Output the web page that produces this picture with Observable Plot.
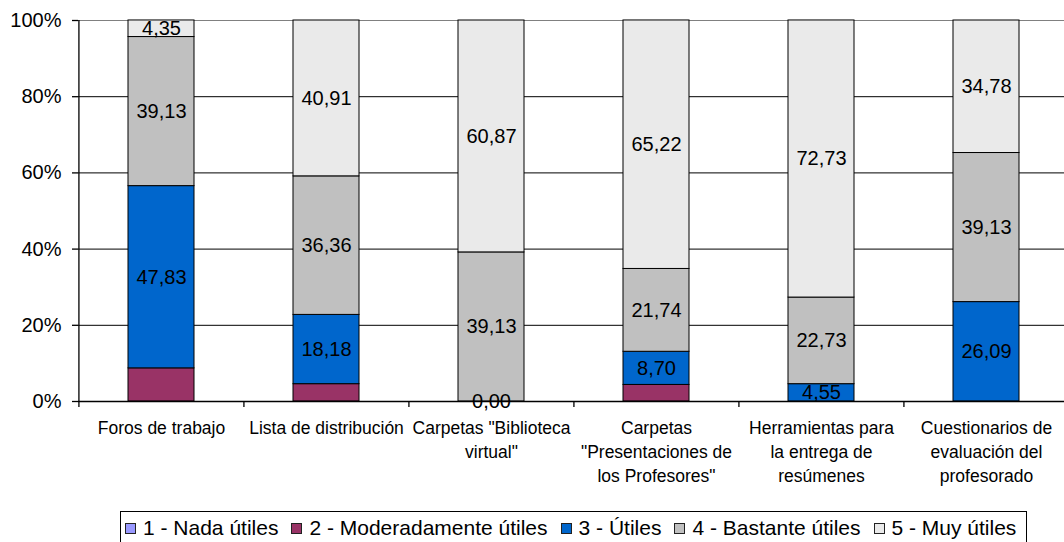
<!DOCTYPE html>
<html><head><meta charset="utf-8">
<script src="https://cdn.jsdelivr.net/npm/d3@7"></script>
<script src="https://cdn.jsdelivr.net/npm/@observablehq/plot@0.6"></script>
<style>
body{margin:0;background:#fff;font-family:"Liberation Sans",Arial,sans-serif;}
#chart{position:relative;width:1064px;height:542px;overflow:hidden;}
#chart svg{display:block;overflow:visible;}
#legend{position:absolute;left:120px;top:511px;height:34px;border:1px solid #000;display:inline-flex;align-items:center;padding:0 10px 0 4px;font-size:21px;color:#000;white-space:nowrap;box-sizing:border-box;}
.item{display:inline-flex;align-items:center;margin-right:13px;}
.item:last-child{margin-right:0;}
.sw{width:11px;height:11px;border:1px solid #222;box-sizing:border-box;margin-right:7px;}
</style></head><body><div id="chart"></div><script>
const categories = ["Foros de trabajo", "Lista de distribución", "Carpetas \"Biblioteca virtual\"", "Carpetas \"Presentaciones de los Profesores\"", "Herramientas para la entrega de resúmenes", "Cuestionarios de evaluación del profesorado"];
const categoryLabels = ["Foros de trabajo", "Lista de distribución", "Carpetas \"Biblioteca\nvirtual\"", "Carpetas\n\"Presentaciones de\nlos Profesores\"", "Herramientas para\nla entrega de\nresúmenes", "Cuestionarios de\nevaluación del\nprofesorado"];
const series = ["1 - Nada útiles", "2 - Moderadamente útiles", "3 - Útiles", "4 - Bastante útiles", "5 - Muy útiles"];
const colors = ["#9999FF", "#993366", "#0066CC", "#C0C0C0", "#EAEAEA"];
const nadaUtiles = [0, 0, 0, 0, 0, 0];
const moderadamenteUtiles = [8.70, 4.55, 0, 4.35, 0, 0];
const utiles = [47.83, 18.18, 0.00, 8.70, 4.55, 26.09];
const bastanteUtiles = [39.13, 36.36, 39.13, 21.74, 22.73, 39.13];
const muyUtiles = [4.35, 40.91, 60.87, 65.22, 72.73, 34.78];
const labelledSeries = ["3 - Útiles", "4 - Bastante útiles", "5 - Muy útiles"];
const yTicks = [0, 20, 40, 60, 80, 100];
const gridTicks = [20, 40, 60, 80];

const seriesValues = [nadaUtiles, moderadamenteUtiles, utiles, bastanteUtiles, muyUtiles];
const data = [];
series.forEach((s, si) => categories.forEach((c, ci) => data.push({category: c, series: s, value: seriesValues[si][ci]})));

const W = 1064, H = 508, left = 78, right = 1069;
const step = (right - left) / categories.length;
const fmt = v => v.toFixed(2).replace(".", ",");
const labelOf = new Map(categories.map((c, i) => [c, categoryLabels[i]]));

const plot = Plot.plot({
  width: W, height: H,
  marginLeft: left, marginRight: 0, marginTop: 20, marginBottom: H - 401,
  style: {fontFamily: "'Liberation Sans', Arial, sans-serif", fontSize: "20px", background: "#fff", color: "#000"},
  x: {type: "band", domain: categories, range: [left, right], paddingInner: 0.6, paddingOuter: 0.3},
  y: {domain: [0, 100], label: null},
  color: {domain: series, range: colors},
  marks: [
    Plot.ruleY(gridTicks, {stroke: "#000", strokeWidth: 1}),
    Plot.ruleY([100], {stroke: "#808080", strokeWidth: 1}),
    Plot.barY(data, Plot.stackY({x: "category", y: "value", z: "series", fill: "series", order: series, stroke: "#000", strokeWidth: 1})),
    Plot.text(data, Plot.stackY({x: "category", y: "value", z: "series", order: series,
      text: d => labelledSeries.includes(d.series) ? fmt(d.value) : "", fontSize: 20, fill: "#000"})),
    Plot.ruleY([0], {stroke: "#000", strokeWidth: 1.3}),
    Plot.ruleX([categories[0]], {dx: -step / 2, stroke: "#000", strokeWidth: 1.3}),
    Plot.ruleX(categories, {x: d => d, y1: 0, y2: 0, insetBottom: -6, dx: -step / 2, stroke: "#000", strokeWidth: 1.3}),
    Plot.axisY(yTicks, {tickFormat: d => d + "%", tickSize: 6, tickPadding: 11, fontSize: 20, label: null, strokeWidth: 1.3}),
    Plot.axisX({tickSize: 0, tickPadding: 15, fontSize: 17.5, lineHeight: 24 / 17.5, label: null, tickFormat: d => labelOf.get(d)})
  ]
});
const chart = document.getElementById("chart");
chart.appendChild(plot);

const legend = document.createElement("div");
legend.id = "legend";
series.forEach((s, i) => {
  const it = document.createElement("span");
  it.className = "item";
  const sw = document.createElement("span");
  sw.className = "sw";
  sw.style.background = colors[i];
  const tx = document.createElement("span");
  tx.textContent = s;
  it.appendChild(sw); it.appendChild(tx);
  legend.appendChild(it);
});
chart.appendChild(legend);
</script></body></html>
